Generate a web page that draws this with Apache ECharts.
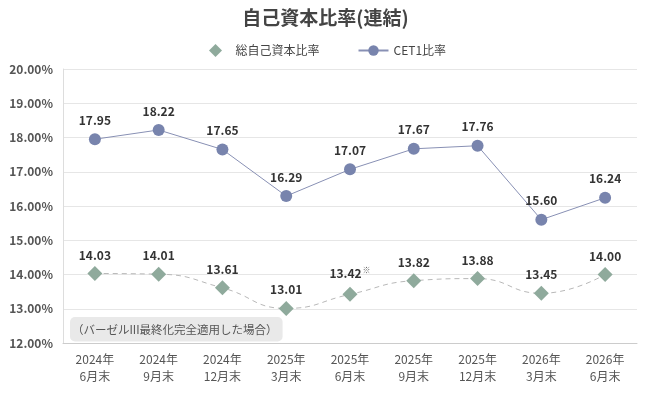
<!DOCTYPE html>
<html>
<head>
<meta charset="utf-8">
<script src="https://cdn.jsdelivr.net/npm/echarts@6/dist/echarts.min.js"></script>
<style>
  html, body { margin: 0; padding: 0; background: #fff; }
  #chart { width: 651px; height: 400px; }
</style>
</head>
<body>
<div id="chart"></div>
<script>
const categories = [
  '2024年\n6月末', '2024年\n9月末', '2024年\n12月末', '2025年\n3月末',
  '2025年\n6月末', '2025年\n9月末', '2025年\n12月末', '2026年\n3月末', '2026年\n6月末'
];
const totalRatio = [14.03, 14.01, 13.61, 13.01, 13.42, 13.82, 13.88, 13.45, 14.00];
const cet1Ratio = [17.95, 18.22, 17.65, 16.29, 17.07, 17.67, 17.76, 15.60, 16.24];
// index of the value that carries the "※" note
const noteIndex = 4;

const font = '"Noto Sans CJK JP", "Noto Sans", sans-serif';
const chart = echarts.init(document.getElementById('chart'));

chart.setOption({
  animation: false,
  textStyle: { fontFamily: font },
  title: {
    text: '自己資本比率(連結)',
    left: 'center',
    top: 3,
    textStyle: { fontSize: 19, fontWeight: 'bold', color: '#444', fontFamily: font }
  },
  legend: {
    top: 39,
    left: 204,
    itemGap: 38,
    itemWidth: 30,
    itemHeight: 13,
    textStyle: { fontSize: 12, color: '#444', fontFamily: font },
    data: [
      {
        name: '総自己資本比率',
        icon: 'path://M5,0L10,5L5,10L0,5Z',
        itemStyle: { color: '#8faa9c' }
      },
      { name: 'CET1比率' }
    ]
  },
  grid: { left: 63, right: 14, top: 69, bottom: 57 },
  xAxis: {
    type: 'category',
    data: categories,
    boundaryGap: true,
    axisLine: { lineStyle: { color: '#ccc' } },
    axisTick: { show: false },
    axisLabel: { color: '#555', fontSize: 12, lineHeight: 17, margin: 8 }
  },
  yAxis: {
    type: 'value',
    min: 12,
    max: 20,
    interval: 1,
    axisLine: { show: true, lineStyle: { color: '#ddd' } },
    axisTick: { show: false },
    splitLine: { lineStyle: { color: '#e6e6e6' } },
    axisLabel: {
      color: '#555',
      fontSize: 12,
      fontWeight: 'bold',
      margin: 10,
      padding: [11, 0, 0, 0],
      formatter: v => v.toFixed(2) + '%'
    }
  },
  graphic: [{
    type: 'text',
    left: 70,
    top: 317,
    style: {
      text: '（バーゼルIII最終化完全適用した場合）',
      fontSize: 11.5,
      fill: '#555',
      fontFamily: font,
      backgroundColor: '#e9e9e9',
      borderRadius: 5,
      padding: [7, 5, 6, 2]
    }
  }],
  series: [
    {
      name: '総自己資本比率',
      type: 'line',
      data: totalRatio,
      smooth: true,
      symbol: 'diamond',
      symbolSize: 15,
      itemStyle: { color: '#8faa9c' },
      lineStyle: { color: '#b8b8b8', width: 1, type: [5, 4] },
      label: {
        show: true,
        position: 'top',
        distance: 5,
        color: '#333',
        fontSize: 12,
        fontWeight: 'bold',
        formatter: p => p.dataIndex === noteIndex
          ? p.value.toFixed(2) + '{note|※}'
          : p.value.toFixed(2),
        rich: {
          note: { fontSize: 8, color: '#666', verticalAlign: 'top', padding: [0, 0, 8, 1] }
        }
      }
    },
    {
      name: 'CET1比率',
      type: 'line',
      data: cet1Ratio,
      symbol: 'circle',
      symbolSize: 12,
      itemStyle: { color: '#7884ad' },
      lineStyle: { color: '#8890b4', width: 1 },
      label: {
        show: true,
        position: 'top',
        distance: 7,
        color: '#333',
        fontSize: 12,
        fontWeight: 'bold',
        formatter: p => p.value.toFixed(2)
      }
    }
  ]
});
</script>
</body>
</html>
